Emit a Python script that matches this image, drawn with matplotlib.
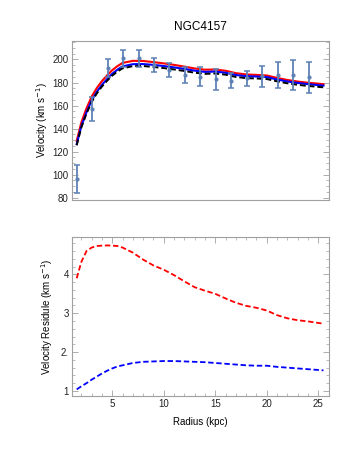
import numpy as np
import matplotlib
matplotlib.use('Agg')
import matplotlib.pyplot as plt
from matplotlib.ticker import MultipleLocator

# observed rotation curve
r_obs = [1.55, 3.05, 4.55, 6.05, 7.55, 9.05, 10.55, 12.05, 13.55, 15.05,
         16.55, 18.05, 19.55, 21.05, 22.55, 24.05]
v_obs = [96.2, 157.2, 192.6, 201.1, 201.0, 195.5, 191.0, 186.4, 185.0, 182.7,
         181.4, 183.8, 185.3, 186.1, 186.4, 184.5]
v_err = [12.0, 10.5, 8.2, 7.3, 7.5, 6.2, 6.0, 6.7, 8.2, 9.4,
         6.5, 6.5, 9.2, 11.3, 13.3, 13.5]

# model curves
r_mod = [1.55, 2, 2.5, 3, 3.5, 4, 4.5, 5, 5.5, 6, 7, 8, 9, 10, 11, 12, 13, 14,
         15, 16, 17, 18, 19, 20, 21, 22, 23, 24, 25, 25.5]
v_red = [129.4, 145.3, 157.6, 167.7, 175.2, 181.2, 186.2, 190.7, 194.2, 197.0,
         198.8, 198.7, 197.7, 196.6, 195.3, 193.8, 192.2, 191.1, 191.3, 190.2,
         188.1, 187.0, 186.6, 186.1, 184.0, 182.2, 180.8, 179.8, 179.0, 178.5]
v_blue = [126.5, 142.1, 154.2, 164.3, 171.9, 178.0, 183.0, 187.6, 191.1, 194.0,
          195.9, 196.0, 195.3, 194.3, 193.1, 191.8, 190.3, 189.2, 189.5, 188.5,
          186.5, 185.5, 185.2, 184.7, 182.6, 180.9, 179.6, 178.6, 177.7, 177.3]
v_black = [125.5, 141.0, 153.0, 163.0, 170.5, 176.5, 181.5, 186.0, 189.5, 192.3,
           194.2, 194.3, 193.5, 192.5, 191.3, 190.0, 188.5, 187.5, 187.8, 186.8,
           184.8, 183.8, 183.5, 183.0, 181.0, 179.3, 178.0, 177.0, 176.2, 175.8]

# residues
res_red = [3.90, 4.32, 4.60, 4.69, 4.73, 4.74, 4.745, 4.74, 4.73, 4.69,
           4.56, 4.38, 4.23, 4.12, 3.98, 3.82, 3.67, 3.58, 3.50, 3.38,
           3.27, 3.19, 3.14, 3.07, 2.95, 2.87, 2.82, 2.79, 2.75, 2.73]
res_blue = [1.04, 1.12, 1.20, 1.29, 1.37, 1.45, 1.52, 1.58, 1.63, 1.66,
            1.72, 1.75, 1.76, 1.77, 1.77, 1.76, 1.75, 1.74, 1.72, 1.70,
            1.68, 1.66, 1.65, 1.65, 1.62, 1.60, 1.58, 1.56, 1.54, 1.53]

plt.rcParams['font.family'] = ['Liberation Sans', 'DejaVu Sans']
frame_col = '#a0a0a0'
pt_col = '#5e81b5'

fig = plt.figure(figsize=(3.6, 4.49), dpi=100)
ax1 = fig.add_axes([0.199, 0.5546, 0.715, 0.354])
ax2 = fig.add_axes([0.199, 0.118, 0.715, 0.354])


def style(ax, ymaj, ymin):
    for s in ax.spines.values():
        s.set_color(frame_col)
        s.set_linewidth(0.8)
    ax.xaxis.set_major_locator(MultipleLocator(5))
    ax.xaxis.set_minor_locator(MultipleLocator(1))
    ax.yaxis.set_major_locator(MultipleLocator(ymaj))
    ax.yaxis.set_minor_locator(MultipleLocator(ymin))
    ax.tick_params(which='both', direction='in', top=True, right=True,
                   color=frame_col, labelsize=7, labelcolor='#222222', pad=2)
    ax.tick_params(which='major', length=4, width=0.6)
    ax.tick_params(which='minor', length=2, width=0.5)
    ax.set_xlim(1.06, 26.04)


style(ax1, 20, 5)
ax1.set_ylim(78, 216)
ax1.tick_params(axis='x', which='both', bottom=False, top=False, labelbottom=False)
ax1.plot(r_mod, v_red, color='#ff0000', lw=1.5)
ax1.plot(r_mod, v_blue, color='#0000ff', lw=1.5)
ax1.plot(r_mod, v_black, color='black', lw=1.4, ls=(0, (3, 1.5)))
ax1.errorbar(r_obs, v_obs, yerr=v_err, fmt='o', ms=2.0, color=pt_col,
             ecolor=pt_col, elinewidth=1.3, capsize=2, capthick=1.1, zorder=5)
ax1.set_ylabel('Velocity (km s$^{-1}$)', fontsize=7, labelpad=2)
ax1.set_title('NGC4157', fontsize=8.5, pad=8)

style(ax2, 1, 0.2)
ax2.set_ylim(0.87, 4.96)
ax2.plot(r_mod, res_red, color='#ff0000', lw=1.3, ls=(0, (3, 1.5)))
ax2.plot(r_mod, res_blue, color='#0000ff', lw=1.3, ls=(0, (3, 1.5)))
ax2.set_yticks([1, 2, 3, 4])
ax2.set_yticklabels(['1', '2.', '3', '4'])
ax2.set_ylabel('Velocity Residule (km s$^{-1}$)', fontsize=7, labelpad=4)
ax2.set_xlabel('Radius (kpc)', fontsize=7, labelpad=6)

fig.savefig('out.png', dpi=100)
